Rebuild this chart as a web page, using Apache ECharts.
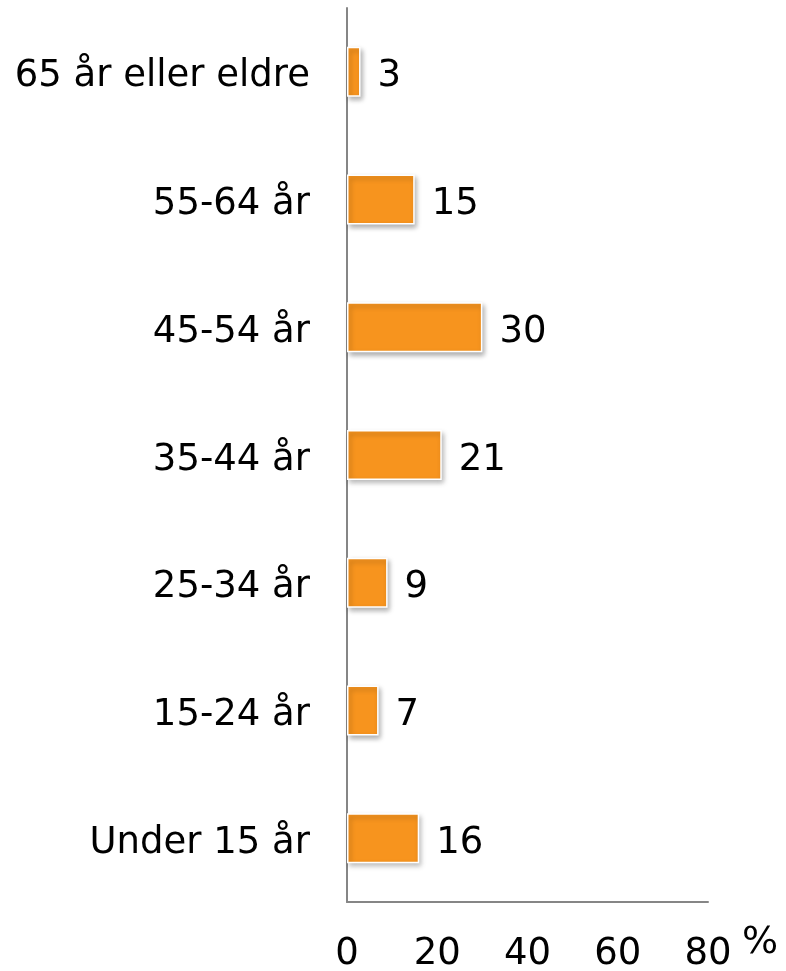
<!DOCTYPE html>
<html>
<head>
<meta charset="utf-8">
<script src="https://cdn.jsdelivr.net/npm/echarts@6/dist/echarts.min.js"></script>
<style>
  html, body { margin: 0; padding: 0; background: #fff; }
  #chart { width: 786px; height: 971px; }
</style>
</head>
<body>
<div id="chart"></div>
<script>
// aldersgrupper, nederst først (kategoriakse tegnes nedenfra)
const categories = ["Under 15 år", "15-24 år", "25-34 år", "35-44 år", "45-54 år", "55-64 år", "65 år eller eldre"];
const values = [16, 7, 9, 21, 30, 15, 3];
const xTicks = [0, 20, 40, 60, 80];

const chart = echarts.init(document.getElementById("chart"));
const font = "DejaVu Sans, Verdana, sans-serif";

chart.setOption({
  animation: false,
  grid: { left: 347, right: 78, top: 8, bottom: 69, containLabel: false, outerBoundsMode: "none" },
  xAxis: {
    type: "value",
    min: xTicks[0],
    max: xTicks[xTicks.length - 1],
    interval: 20,
    name: "%",
    nameLocation: "end",
    nameGap: 34,
    nameTextStyle: { color: "#000", fontFamily: font, fontSize: 38, verticalAlign: "top", padding: [22, 0, 0, 0] },
    splitLine: { show: false },
    axisTick: { show: false },
    axisLine: { show: true, lineStyle: { color: "#868686", width: 2 } },
    axisLabel: { color: "#000", fontFamily: font, fontSize: 37, margin: 34 }
  },
  yAxis: {
    type: "category",
    data: categories,
    axisTick: { show: false },
    axisLine: { show: true, lineStyle: { color: "#868686", width: 2 } },
    axisLabel: {
      margin: 37,
      formatter: "{a|{value}}",
      rich: { a: { color: "#000", fontFamily: font, fontSize: 37, padding: [10, 0, 0, 0] } }
    }
  },
  series: [
    {
      type: "bar",
      data: values,
      barWidth: 50,
      itemStyle: {
        color: "#F7941E",
        borderColor: "#ffffff",
        borderWidth: 1.5,
        shadowBlur: 5,
        shadowColor: "rgba(0,0,0,0.3)",
        shadowOffsetX: 2,
        shadowOffsetY: 3
      },
      label: {
        show: true,
        position: "right",
        distance: 17,
        offset: [0, 5],
        color: "#000",
        fontFamily: font,
        fontSize: 37
      }
    }
  ]
});
</script>
</body>
</html>
